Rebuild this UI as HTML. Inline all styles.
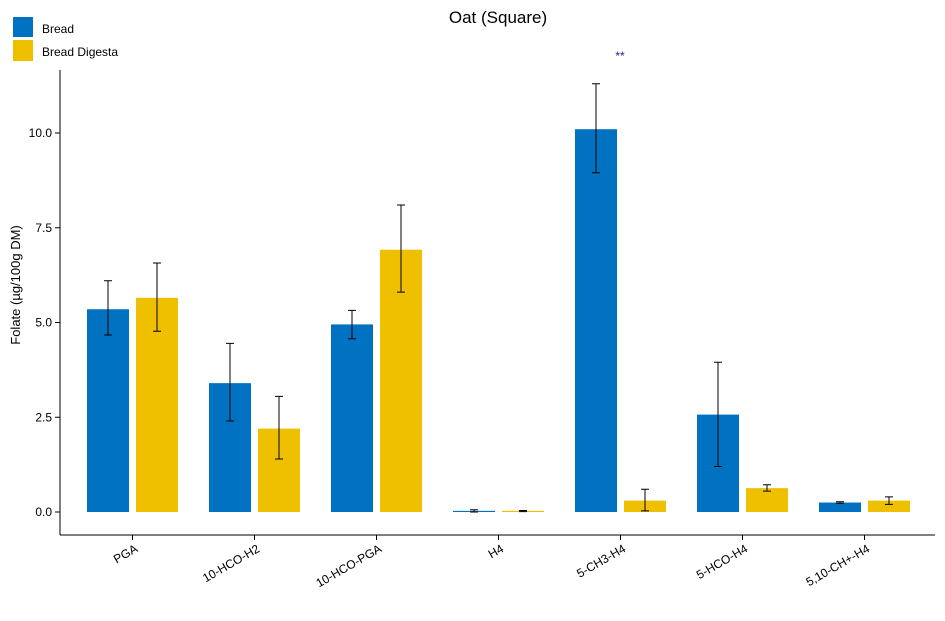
<!DOCTYPE html>
<html><head><meta charset="utf-8"><style>
html,body{margin:0;padding:0;background:#fff;}
svg{display:block;font-family:"Liberation Sans",Arial,sans-serif;}
</style></head><body>
<svg id="chart" width="945" height="621">
<text x="498" y="23" text-anchor="middle" font-size="17">Oat (Square)</text>
<rect x="13" y="17" width="20" height="20" fill="#0072c1"/>
<text x="42" y="33" font-size="12">Bread</text>
<rect x="13" y="40" width="20" height="21" fill="#efc000"/>
<text x="42" y="56" font-size="12">Bread Digesta</text>
<text transform="translate(20,285) rotate(-90)" text-anchor="middle" font-size="13">Folate (µg/100g DM)</text>
<text x="620" y="60" text-anchor="middle" font-size="12" fill="#1a237e">**</text>
<g id="marks"></g>
</svg>
<script>
const categories=["PGA","10-HCO-H2","10-HCO-PGA","H4","5-CH3-H4","5-HCO-H4","5,10-CH+-H4"];
const breadVals=[5.35,3.4,4.95,0.03,10.1,2.57,0.25];
const breadLo=[4.67,2.4,4.57,0.0,8.95,1.2,0.23];
const breadHi=[6.1,4.45,5.32,0.06,11.3,3.95,0.27];
const digestaVals=[5.65,2.2,6.92,0.03,0.3,0.63,0.3];
const digestaLo=[4.77,1.4,5.8,0.01,0.03,0.55,0.2];
const digestaHi=[6.57,3.05,8.1,0.04,0.6,0.72,0.4];
const yTicks=[0,2.5,5,7.5,10];
const yTickLabels=["0.0","2.5","5.0","7.5","10.0"];

const NS="http://www.w3.org/2000/svg";
const g=document.getElementById('marks');
const y=v=>512-v*37.9;
const xc=i=>132.5+i*122;
function mk(t,a){const e=document.createElementNS(NS,t);for(const k in a)e.setAttribute(k,a[k]);g.appendChild(e);return e;}
let ax=mk('line',{x1:60,y1:70,x2:60,y2:535,stroke:'#000','stroke-width':1});


let bx=mk('line',{x1:60,y1:535,x2:935,y2:535,stroke:'#000','stroke-width':1});


yTicks.forEach((v,i)=>{
  let t=mk('line',{x1:55,x2:60,y1:y(v),y2:y(v),stroke:'#000'});
  
  
  let l=mk('text',{x:52,y:y(v)+4,'text-anchor':'end','font-size':12});
  l.textContent=yTickLabels[i];
  
  
});
function series(vals,lo,hi,off,color,name){
  vals.forEach((v,i)=>{
    const cx=xc(i)+off;
    let r=mk('rect',{x:cx-21,y:Math.min(y(v),y(0)),width:42,height:Math.max(Math.abs(y(0)-y(v)),1),fill:color});
    
    
    let e=mk('path',{d:`M${cx-4},${y(hi[i])}H${cx+4}M${cx},${y(hi[i])}V${y(lo[i])}M${cx-4},${y(lo[i])}H${cx+4}`,stroke:'#000',fill:'none','stroke-width':1});
    
    
  });
}
series(breadVals,breadLo,breadHi,-24.5,'#0072c1','bread');
series(digestaVals,digestaLo,digestaHi,24.5,'#efc000','digesta');
categories.forEach((c,i)=>{
  let t=mk('line',{x1:xc(i),x2:xc(i),y1:535,y2:540,stroke:'#000'});
  
  
  let l=mk('text',{transform:`translate(${xc(i)+6},${551}) rotate(-30)`,'text-anchor':'end','font-size':12});
  l.textContent=c;
  
  
});
</script>
</body></html>
